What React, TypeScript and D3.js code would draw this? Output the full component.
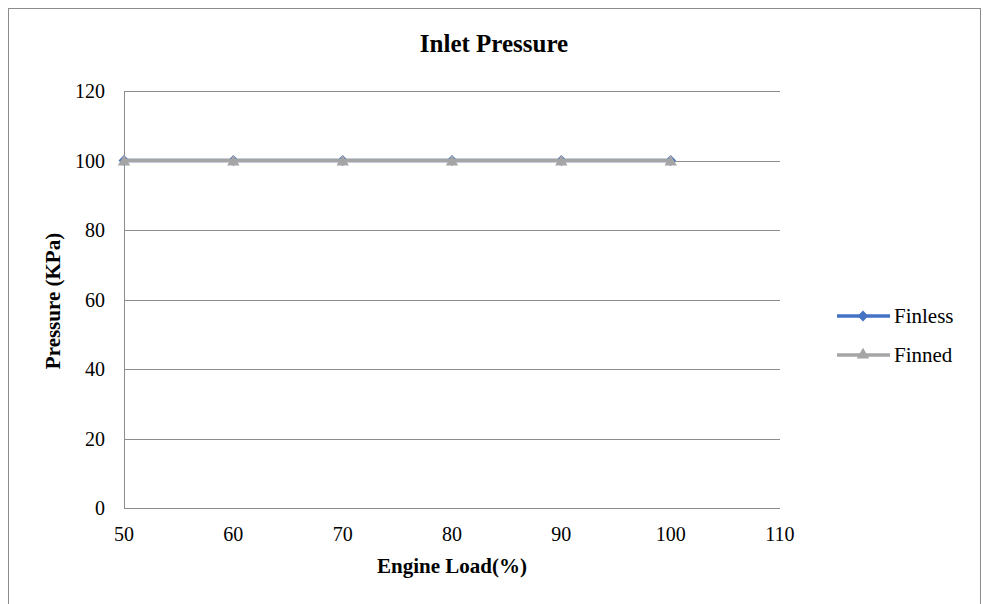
import React, { useEffect, useRef } from 'react'
import * as d3 from 'd3'

const loads = [50, 60, 70, 80, 90, 100]
const finless = [100, 100, 100, 100, 100, 100]
const finned = [100, 100, 100, 100, 100, 100]
const xTicks = [50, 60, 70, 80, 90, 100, 110]
const yTicks = [0, 20, 40, 60, 80, 100, 120]

const series = [
  { name: 'Finless', values: finless, color: '#4472C4', marker: 'diamond' },
  { name: 'Finned', values: finned, color: '#A5A5A5', marker: 'triangle' }
]

export default function App() {
  const ref = useRef<SVGSVGElement>(null)

  useEffect(() => {
    if (!ref.current) return
    const svg = d3.select(ref.current)
    svg.selectAll('*').remove()
    const font = 'Liberation Serif, Times New Roman, serif'

    // outer frame
    svg.append('rect')
      .attr('x', 8.5).attr('y', 8.5)
      .attr('width', 972).attr('height', 620)
      .attr('fill', '#fff').attr('stroke', '#8c8c8c').attr('stroke-width', 1)

    const x = d3.scaleLinear().domain([50, 110]).range([124, 780])
    const y = d3.scaleLinear().domain([0, 120]).range([508, 91])

    // gridlines
    svg.append('g')
      .selectAll('line')
      .data(yTicks.filter(d => d > 0))
      .join('line')
        .attr('x1', x(50)).attr('x2', x(110))
        .attr('y1', d => Math.round(y(d)) + 0.5)
        .attr('y2', d => Math.round(y(d)) + 0.5)
        .attr('stroke', '#8c8c8c').attr('stroke-width', 1)

    // axis lines
    svg.append('line')
      .attr('x1', x(50) + 0.5).attr('x2', x(50) + 0.5)
      .attr('y1', y(120)).attr('y2', y(0))
      .attr('stroke', '#8c8c8c')
    svg.append('line')
      .attr('x1', x(50)).attr('x2', x(110))
      .attr('y1', Math.round(y(0)) + 0.5).attr('y2', Math.round(y(0)) + 0.5)
      .attr('stroke', '#8c8c8c')

    // tick labels
    svg.append('g')
      .attr('font-family', font).attr('font-size', 20).attr('text-anchor', 'end')
      .selectAll('text')
      .data(yTicks)
      .join('text')
        .attr('x', 105)
        .attr('y', d => y(d) + 7)
        .text(d => d)
    svg.append('g')
      .attr('font-family', font).attr('font-size', 20).attr('text-anchor', 'middle')
      .selectAll('text')
      .data(xTicks)
      .join('text')
        .attr('x', d => x(d))
        .attr('y', 541)
        .text(d => d)

    // titles
    svg.append('text')
      .attr('x', 494).attr('y', 52)
      .attr('text-anchor', 'middle').attr('font-family', font)
      .attr('font-size', 25).attr('font-weight', 'bold')
      .text('Inlet Pressure')
    svg.append('text')
      .attr('x', 452).attr('y', 573)
      .attr('text-anchor', 'middle').attr('font-family', font)
      .attr('font-size', 21).attr('font-weight', 'bold')
      .text('Engine Load(%)')
    svg.append('text')
      .attr('transform', 'translate(60,301) rotate(-90)')
      .attr('text-anchor', 'middle').attr('font-family', font)
      .attr('font-size', 21).attr('font-weight', 'bold')
      .text('Pressure (KPa)')

    const line = d3.line<number>()
      .x((_, i) => x(loads[i]))
      .y(d => y(d))

    const symbolFor = (m: string) =>
      d3.symbol().type(m === 'diamond' ? d3.symbolDiamond2 : d3.symbolTriangle2).size(m === 'diamond' ? 75 : 110)()

    series.forEach(s => {
      const g = svg.append('g')
      g.append('path')
        .datum(s.values)
        .attr('d', line)
        .attr('fill', 'none')
        .attr('stroke', s.color)
        .attr('stroke-width', 3.5)
      g.selectAll('path.m')
        .data(s.values)
        .join('path')
          .attr('class', 'm')
          .attr('transform', (d, i) => `translate(${x(loads[i])},${y(d) + (s.marker === 'triangle' ? 1.5 : 0)})`)
          .attr('d', symbolFor(s.marker))
          .attr('fill', s.color)
    })

    // legend
    const legend = svg.append('g').attr('font-family', font).attr('font-size', 21)
    series.forEach((s, i) => {
      const ly = 316 + i * 39
      legend.append('line')
        .attr('x1', 837).attr('x2', 890)
        .attr('y1', ly).attr('y2', ly)
        .attr('stroke', s.color).attr('stroke-width', 3.5)
      legend.append('path')
        .attr('transform', `translate(863,${ly})`)
        .attr('d', symbolFor(s.marker))
        .attr('fill', s.color)
      legend.append('text')
        .attr('x', 894).attr('y', ly + 7)
        .text(s.name)
    })
  }, [])

  return (
    <svg ref={ref} width={983} height={604}
      style={{ position: 'absolute', left: 0, top: 0, background: '#fff' }} />
  )
}
